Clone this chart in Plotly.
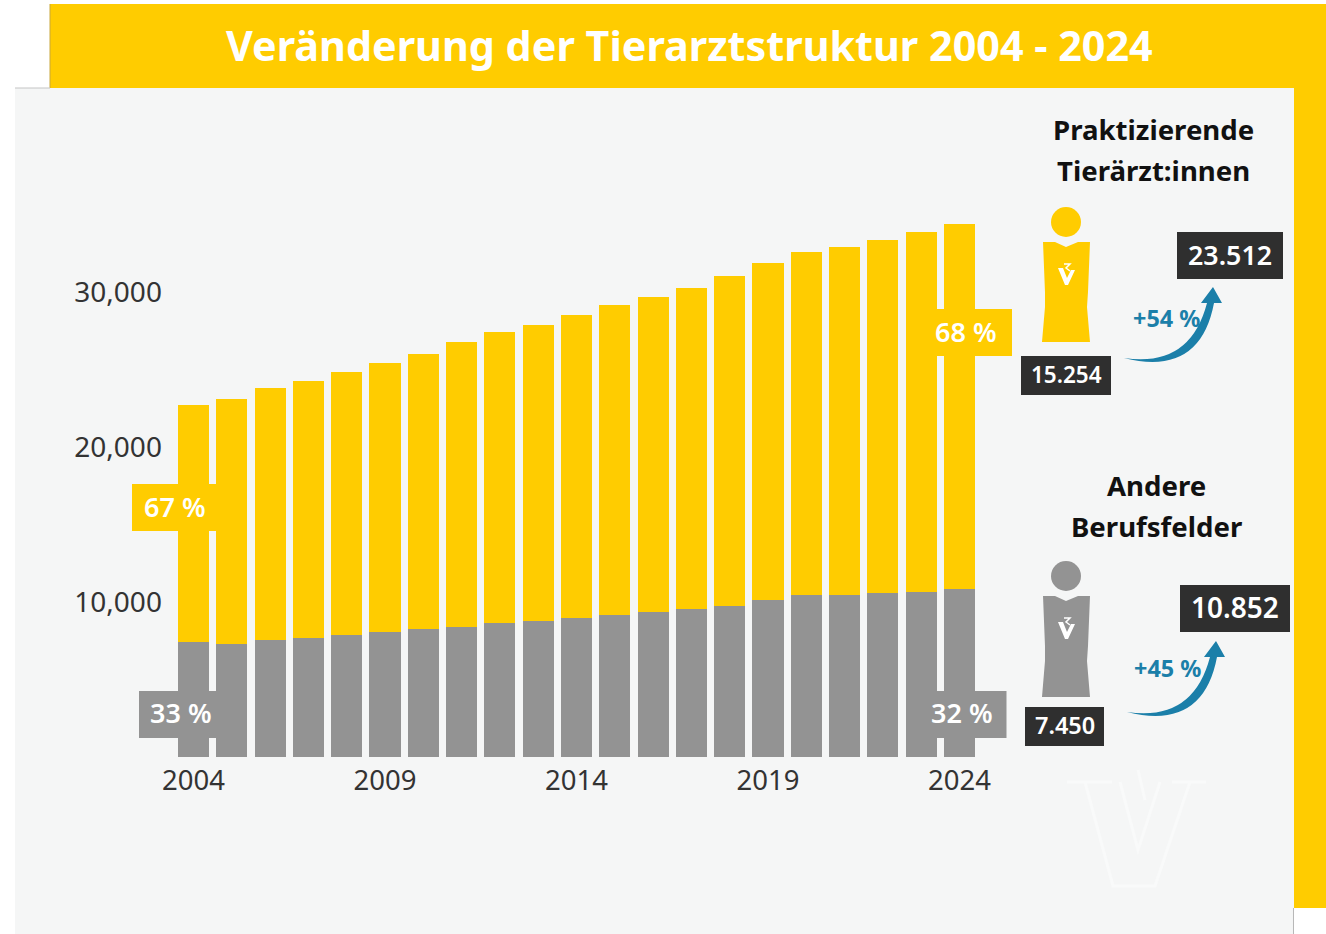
import plotly.graph_objects as go

W, H = 1326, 934

# ---------- data ----------
years = list(range(2004, 2025))
andere = [7450, 7290, 7550, 7680, 7870, 8060, 8260, 8390, 8640, 8770, 8970,
          9160, 9350, 9550, 9740, 10130, 10450, 10450, 10580, 10640, 10852]
praktizierende = [15254, 15800, 16250, 16580, 16960, 17350, 17740, 18380, 18770, 19090, 19540,
                  20000, 20320, 20700, 21290, 21740, 22120, 22450, 22770, 23220, 23512]
x_ticks = [2004, 2009, 2014, 2019, 2024]
y_ticks = [10000, 20000, 30000]
title_text = "Veränderung der Tierarztstruktur 2004 - 2024"

# ---------- style ----------
YEL = "#FFCC00"
GRY = "#939393"
DARK = "#2F2F2F"
TEAL = "#1B7FA9"
PANEL = "#F5F6F6"
FONT = "Noto Sans"


def fx(p):
    return p / W


def fy(p):
    return 1 - p / H


def path(pts):
    """Pixel-path string (page coords) -> paper coords."""
    out = []
    for tok in pts:
        if isinstance(tok, str):
            out.append(tok)
        else:
            out.append(f"{fx(tok[0]):.5f},{fy(tok[1]):.5f}")
    return " ".join(out)


def rect(x0, y0, x1, y1, color, layer="above"):
    return dict(type="rect", xref="paper", yref="paper", x0=fx(x0), x1=fx(x1), y0=fy(y1), y1=fy(y0),
                fillcolor=color, line_width=0, layer=layer)


def shp(pts, color, layer="above"):
    return dict(type="path", xref="paper", yref="paper", path=path(pts), fillcolor=color,
                line_width=0, layer=layer)


def line(pts, color, width, layer="below"):
    return dict(type="path", xref="paper", yref="paper", path=path(pts),
                line=dict(color=color, width=width), layer=layer)


def text(x, y, s, size, color, weight=600):
    return dict(xref="paper", yref="paper", x=fx(x), y=fy(y), text=s, showarrow=False,
                xanchor="center", yanchor="middle",
                font=dict(family=FONT, size=size, color=color, weight=weight))


def person(dy, color, bottom):
    top = 242 + dy
    cx, cy = 1066, 222 + dy
    r = 15
    body = [("M"), (1043, top), "L", (1055, top), "L", (1066, top + 5), "L", (1078, top), "L", (1090, top),
            "L", (1088, top + 50), "L", (1087, top + 65), "L", (1090, bottom), "L", (1042, bottom),
            "L", (1045, top + 65), "L", (1045, top + 50), "Z"]
    head = dict(type="circle", xref="paper", yref="paper", x0=fx(cx - r), x1=fx(cx + r),
                y0=fy(cy + r), y1=fy(cy - r), fillcolor=color, line_width=0, layer="above")
    vy = 268 + dy
    v = ["M", (1058, vy), "L", (1063, vy), "L", (1067, vy + 10), "L", (1071, vy + 2), "L", (1075, vy + 2),
         "L", (1068, vy + 17), "L", (1065, vy + 17), "Z"]
    squiggle = ["M", (1064, vy - 4), "L", (1070, vy - 4), "L", (1066, vy), "L", (1070, vy + 3)]
    return [head, shp(body, color), shp(v, "#FFFFFF"),
            line(squiggle, "#FFFFFF", 1.5, layer="above")]


def arrow(dx, dy):
    return shp(["M", (1124 + dx, 358 + dy),
                "Q", (1190 + dx, 368 + dy), (1207 + dx, 303 + dy),
                "L", (1201 + dx, 303 + dy), "L", (1213 + dx, 287 + dy), "L", (1222 + dx, 303 + dy),
                "L", (1214 + dx, 303 + dy),
                "Q", (1200 + dx, 377 + dy), (1124 + dx, 358 + dy), "Z"], TEAL)


shapes = [
    rect(15, 88, 1294, 934, PANEL, "below"),
    rect(50, 4, 1326, 88, YEL, "below"),
    rect(1294, 88, 1326, 908, YEL, "below"),
    line(["M", (50, 4), "L", (50, 88)], "#C9A73A", 1),
    line(["M", (15, 88), "L", (50, 88)], "#C4C4C4", 1),
    line(["M", (1293.5, 908), "L", (1293.5, 934)], "#B8B8B8", 1),
    # watermark logo
    line(["M", (1067, 782), "L", (1112, 782), "M", (1172, 782), "L", (1206, 782),
          "M", (1085, 782), "L", (1113, 886), "L", (1155, 886), "L", (1190, 782),
          "M", (1120, 782), "L", (1138, 850), "L", (1160, 782),
          "M", (1138, 770), "L", (1145, 800)], "#F9FAFA", 3),
    # percentage tags
    rect(132, 484, 217, 531, YEL),
    rect(139, 691, 217, 738, GRY),
    rect(936, 309, 1012, 356, YEL),
    rect(936, 691, 1006.5, 738, GRY),
    # count boxes
    rect(1021, 356, 1111, 395, DARK),
    rect(1177, 232, 1283, 279, DARK),
    rect(1025, 707, 1104, 746, DARK),
    rect(1180, 585, 1290, 632, DARK),
    arrow(0, 0),
    arrow(3, 354),
]
shapes += person(0, YEL, 342)
shapes += person(354, GRY, 697)

annotations = [
    text(689, 45, title_text, 41.3, "#FFFFFF", 700),
    text(175, 506, "67 %", 27, "#FFFFFF"),
    text(181, 712, "33 %", 27, "#FFFFFF"),
    text(966, 331, "68 %", 27, "#FFFFFF"),
    text(962, 712, "32 %", 27, "#FFFFFF"),
    text(1153, 129, "Praktizierende", 27.6, "#111111", 700),
    text(1153, 170, "Tierärzt:innen", 27.6, "#111111", 700),
    text(1156, 485, "Andere", 27.6, "#111111", 700),
    text(1156, 526, "Berufsfelder", 27.6, "#111111", 700),
    text(1066, 374, "15.254", 22.5, "#FFFFFF"),
    text(1230, 254, "23.512", 26.8, "#FFFFFF"),
    text(1065, 725, "7.450", 23.5, "#FFFFFF"),
    text(1235, 607, "10.852", 28, "#FFFFFF"),
    text(1166, 318, "+54 %", 23.4, TEAL, 700),
    text(1167, 668, "+45 %", 23.4, TEAL, 700),
]

fig = go.Figure()
fig.add_bar(x=years, y=andere, name="Andere Berufsfelder", marker=dict(color=GRY, line_width=0), width=0.81)
fig.add_bar(x=years, y=praktizierende, name="Praktizierende Tierärzt:innen",
            marker=dict(color=YEL, line_width=0), width=0.81)

# pixel geometry of the plotting area
X_PER_YEAR = 38.3
X_2004 = 193.5
Y_BASE = 757
PX_PER_UNIT = 155 / 10000
x_lo, x_hi = 2003.4, 2024.6
y_hi = 35000
left = X_2004 + (x_lo - 2004) * X_PER_YEAR
right = X_2004 + (x_hi - 2004) * X_PER_YEAR
top = Y_BASE - y_hi * PX_PER_UNIT

fig.update_layout(
    template=None,
    width=W, height=H, margin=dict(l=0, r=0, t=0, b=0, pad=0), autosize=False,
    paper_bgcolor="#FFFFFF", plot_bgcolor="rgba(0,0,0,0)",
    barmode="stack", showlegend=False,
    font=dict(family=FONT, color="#333333"),
    xaxis=dict(domain=[fx(left), fx(right)], range=[x_lo, x_hi], tickvals=x_ticks, automargin=False,
               ticktext=[str(v) for v in x_ticks], showgrid=False, zeroline=False, showline=False,
               ticks="", ticklabelstandoff=4, tickfont=dict(size=27.5, color="#333333")),
    yaxis=dict(domain=[fy(Y_BASE), fy(top)], range=[0, y_hi], tickvals=y_ticks, tickformat=",d", automargin=False,
               showgrid=False, zeroline=False, showline=False,
               ticks="outside", ticklen=2, tickcolor="rgba(0,0,0,0)", tickfont=dict(size=28, color="#333333")),
    shapes=shapes, annotations=annotations,
)

fig.write_html("out.html", config={"displayModeBar": False},
               post_script="document.body.style.margin='0';document.body.style.overflow='hidden';")
